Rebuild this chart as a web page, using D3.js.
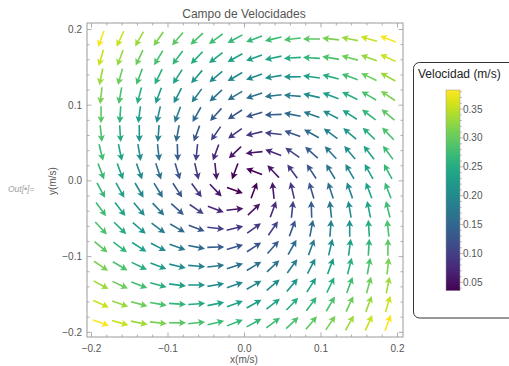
<!DOCTYPE html>
<html>
<head>
<meta charset="utf-8">
<script src="https://cdn.jsdelivr.net/npm/d3@7"></script>
<style>
  html, body { margin: 0; padding: 0; background: #fff; }
  svg { display: block; font-family: "Liberation Sans", Arial, sans-serif; }
</style>
</head>
<body>
<svg id="chart" width="509" height="366"></svg>
<script>
// ---- data ----
const title = "Campo de Velocidades";
const xLabel = "x(m/s)";
const yLabel = "y(m/s)";
const legendTitle = "Velocidad (m/s)";
const xTicks = [-0.2, -0.1, 0.0, 0.1, 0.2];
const yTicks = [-0.2, -0.1, 0.0, 0.1, 0.2];
const colorTicks = [0.05, 0.10, 0.15, 0.20, 0.25, 0.30, 0.35];
const colorRange = [0.0355, 0.383];
// arrow grid positions (columns left→right, rows top→bottom)
const xs = [-0.1875,-0.1625,-0.1375,-0.1125,-0.0875,-0.0625,-0.0375,-0.0125,0.0125,0.0375,0.0625,0.0875,0.1125,0.1375,0.1625,0.1875];
const ys = [0.1875,0.1625,0.1375,0.1125,0.0875,0.0625,0.0375,0.0125,-0.0125,-0.0375,-0.0625,-0.0875,-0.1125,-0.1375,-0.1625,-0.1875];
// horizontal velocity component at each arrow (rows top→bottom)
const U = [
 [-0.131,-0.146,-0.161,-0.176,-0.191,-0.206,-0.221,-0.236,-0.251,-0.266,-0.281,-0.296,-0.311,-0.326,-0.341,-0.356],
 [-0.099,-0.114,-0.129,-0.144,-0.159,-0.174,-0.189,-0.204,-0.219,-0.234,-0.249,-0.264,-0.279,-0.294,-0.309,-0.324],
 [-0.066,-0.081,-0.096,-0.111,-0.126,-0.141,-0.156,-0.171,-0.186,-0.201,-0.216,-0.231,-0.246,-0.261,-0.276,-0.291],
 [-0.034,-0.049,-0.064,-0.079,-0.094,-0.109,-0.124,-0.139,-0.154,-0.169,-0.184,-0.199,-0.214,-0.229,-0.244,-0.259],
 [-0.001,-0.016,-0.031,-0.046,-0.061,-0.076,-0.091,-0.106,-0.121,-0.136,-0.151,-0.166,-0.181,-0.196,-0.211,-0.226],
 [0.031,0.016,0.001,-0.014,-0.029,-0.044,-0.059,-0.074,-0.089,-0.104,-0.119,-0.134,-0.149,-0.164,-0.179,-0.194],
 [0.064,0.049,0.034,0.019,0.004,-0.011,-0.026,-0.041,-0.056,-0.071,-0.086,-0.101,-0.116,-0.131,-0.146,-0.161],
 [0.096,0.081,0.066,0.051,0.036,0.021,0.006,-0.009,-0.024,-0.039,-0.054,-0.069,-0.084,-0.099,-0.114,-0.129],
 [0.129,0.114,0.099,0.084,0.069,0.054,0.039,0.024,0.009,-0.006,-0.021,-0.036,-0.051,-0.066,-0.081,-0.096],
 [0.161,0.146,0.131,0.116,0.101,0.086,0.071,0.056,0.041,0.026,0.011,-0.004,-0.019,-0.034,-0.049,-0.064],
 [0.194,0.179,0.164,0.149,0.134,0.119,0.104,0.089,0.074,0.059,0.044,0.029,0.014,-0.001,-0.016,-0.031],
 [0.226,0.211,0.196,0.181,0.166,0.151,0.136,0.121,0.106,0.091,0.076,0.061,0.046,0.031,0.016,0.001],
 [0.259,0.244,0.229,0.214,0.199,0.184,0.169,0.154,0.139,0.124,0.109,0.094,0.079,0.064,0.049,0.034],
 [0.291,0.276,0.261,0.246,0.231,0.216,0.201,0.186,0.171,0.156,0.141,0.126,0.111,0.096,0.081,0.066],
 [0.324,0.309,0.294,0.279,0.264,0.249,0.234,0.219,0.204,0.189,0.174,0.159,0.144,0.129,0.114,0.099],
 [0.356,0.341,0.326,0.311,0.296,0.281,0.266,0.251,0.236,0.221,0.206,0.191,0.176,0.161,0.146,0.131]
];
// vertical velocity component at each arrow (rows top→bottom)
const V = [
 [-0.356,-0.324,-0.291,-0.259,-0.226,-0.194,-0.161,-0.129,-0.096,-0.064,-0.031,0.001,0.034,0.066,0.099,0.131],
 [-0.341,-0.309,-0.276,-0.244,-0.211,-0.179,-0.146,-0.114,-0.081,-0.049,-0.016,0.016,0.049,0.081,0.114,0.146],
 [-0.326,-0.294,-0.261,-0.229,-0.196,-0.164,-0.131,-0.099,-0.066,-0.034,-0.001,0.031,0.064,0.096,0.129,0.161],
 [-0.311,-0.279,-0.246,-0.214,-0.181,-0.149,-0.116,-0.084,-0.051,-0.019,0.014,0.046,0.079,0.111,0.144,0.176],
 [-0.296,-0.264,-0.231,-0.199,-0.166,-0.134,-0.101,-0.069,-0.036,-0.004,0.029,0.061,0.094,0.126,0.159,0.191],
 [-0.281,-0.249,-0.216,-0.184,-0.151,-0.119,-0.086,-0.054,-0.021,0.011,0.044,0.076,0.109,0.141,0.174,0.206],
 [-0.266,-0.234,-0.201,-0.169,-0.136,-0.104,-0.071,-0.039,-0.006,0.026,0.059,0.091,0.124,0.156,0.189,0.221],
 [-0.251,-0.219,-0.186,-0.154,-0.121,-0.089,-0.056,-0.024,0.009,0.041,0.074,0.106,0.139,0.171,0.204,0.236],
 [-0.236,-0.204,-0.171,-0.139,-0.106,-0.074,-0.041,-0.009,0.024,0.056,0.089,0.121,0.154,0.186,0.219,0.251],
 [-0.221,-0.189,-0.156,-0.124,-0.091,-0.059,-0.026,0.006,0.039,0.071,0.104,0.136,0.169,0.201,0.234,0.266],
 [-0.206,-0.174,-0.141,-0.109,-0.076,-0.044,-0.011,0.021,0.054,0.086,0.119,0.151,0.184,0.216,0.249,0.281],
 [-0.191,-0.159,-0.126,-0.094,-0.061,-0.029,0.004,0.036,0.069,0.101,0.134,0.166,0.199,0.231,0.264,0.296],
 [-0.176,-0.144,-0.111,-0.079,-0.046,-0.014,0.019,0.051,0.084,0.116,0.149,0.181,0.214,0.246,0.279,0.311],
 [-0.161,-0.129,-0.096,-0.064,-0.031,0.001,0.034,0.066,0.099,0.131,0.164,0.196,0.229,0.261,0.294,0.326],
 [-0.146,-0.114,-0.081,-0.049,-0.016,0.016,0.049,0.081,0.114,0.146,0.179,0.211,0.244,0.276,0.309,0.341],
 [-0.131,-0.099,-0.066,-0.034,-0.001,0.031,0.064,0.096,0.129,0.161,0.194,0.226,0.259,0.291,0.324,0.356]
];

// ---- drawing ----
const svg = d3.select("#chart");
const frame = {left: 87, right: 403, top: 23, bottom: 337};
const x = d3.scaleLinear().domain([-0.2, 0.2]).range([91.5, 397.5]);
const y = d3.scaleLinear().domain([-0.2, 0.2]).range([332.3, 29.5]);
const color = d3.scaleSequential(d3.interpolateViridis).domain(colorRange).clamp(true);
const txtCol = "#555";
const frameCol = "#9a9a9a";

// title
svg.append("text").attr("x", 244).attr("y", 18).attr("text-anchor", "middle")
  .attr("font-size", 12).attr("fill", "#555").text(title);

// Out label
svg.append("text").attr("x", 8).attr("y", 192).attr("font-size", 8.5)
  .attr("font-style", "italic").attr("fill", "#a0a0a0").text("Out[\u2022]=");

// arrows
const cells = [];
ys.forEach((yv, j) => xs.forEach((xv, i) => cells.push({xv, yv, u: U[j][i], v: V[j][i]})));
const L = 17, headLen = 7, headW = 3.6, shaftW = 1.6;
const arrowPath = (() => {
  const t = L / 2, b = -L / 2, hb = t - headLen, notch = t - headLen * 0.82;
  return `M${b},${-shaftW/2} L${notch},${-shaftW/2} L${hb},${-headW} L${t},0 L${hb},${headW} L${notch},${shaftW/2} L${b},${shaftW/2} Z`;
})();
svg.append("g").selectAll("path").data(cells).join("path")
  .attr("d", arrowPath)
  .attr("fill", d => color(Math.hypot(d.u, d.v)))
  .attr("transform", d => `translate(${x(d.xv)},${y(d.yv)}) rotate(${Math.atan2(-d.v, d.u) * 180 / Math.PI})`);

// frame
svg.append("rect").attr("x", frame.left).attr("y", frame.top)
  .attr("width", frame.right - frame.left).attr("height", frame.bottom - frame.top)
  .attr("fill", "none").attr("stroke", frameCol).attr("stroke-width", 1);

// ticks
const minor = d3.range(-0.2, 0.2001, 0.02);
const tg = svg.append("g").attr("stroke", frameCol).attr("stroke-width", 0.8);
minor.forEach(t => {
  const isMajor = Math.abs(Math.round(t * 10) - t * 10) < 1e-6;
  const len = isMajor ? 4.5 : 2.5;
  const px = x(t), py = y(t);
  tg.append("line").attr("x1", px).attr("x2", px).attr("y1", frame.bottom).attr("y2", frame.bottom - len);
  tg.append("line").attr("x1", px).attr("x2", px).attr("y1", frame.top).attr("y2", frame.top + len);
  tg.append("line").attr("y1", py).attr("y2", py).attr("x1", frame.left).attr("x2", frame.left + len);
  tg.append("line").attr("y1", py).attr("y2", py).attr("x1", frame.right).attr("x2", frame.right - len);
});
const fmt = d3.format(".1f");
svg.append("g").selectAll("text").data(xTicks).join("text")
  .attr("x", d => x(d)).attr("y", 352).attr("text-anchor", "middle")
  .attr("font-size", 10).attr("fill", txtCol).text(d => fmt(d));
svg.append("g").selectAll("text").data(yTicks).join("text")
  .attr("x", 82).attr("y", d => y(d) + 3.5).attr("text-anchor", "end")
  .attr("font-size", 10).attr("fill", txtCol).text(d => fmt(d));

// axis labels
svg.append("text").attr("x", 244).attr("y", 363).attr("text-anchor", "middle")
  .attr("font-size", 10).attr("fill", txtCol).text(xLabel);
svg.append("text").attr("transform", "translate(56,181) rotate(-90)").attr("text-anchor", "middle")
  .attr("font-size", 10).attr("fill", txtCol).text(yLabel);

// legend
svg.append("rect").attr("x", 413.5).attr("y", 62.5).attr("width", 110).attr("height", 255.5)
  .attr("rx", 6).attr("fill", "#fff").attr("stroke", "#333").attr("stroke-width", 1);
svg.append("text").attr("x", 418).attr("y", 78).attr("font-size", 12).attr("fill", "#222").text(legendTitle);

const cb = {x: 446, w: 14, top: 90, bottom: 290.7};
const cy = d3.scaleLinear().domain(colorRange).range([cb.bottom, cb.top]);
const defs = svg.append("defs");
const grad = defs.append("linearGradient").attr("id", "cbgrad")
  .attr("x1", 0).attr("y1", 1).attr("x2", 0).attr("y2", 0);
d3.range(0, 1.0001, 0.05).forEach(f => {
  grad.append("stop").attr("offset", f)
    .attr("stop-color", color(colorRange[0] + f * (colorRange[1] - colorRange[0])));
});
svg.append("rect").attr("x", cb.x).attr("y", cb.top).attr("width", cb.w).attr("height", cb.bottom - cb.top)
  .attr("fill", "url(#cbgrad)").attr("stroke", "#999").attr("stroke-width", 0.5);
const cbg = svg.append("g").attr("stroke", "#999").attr("stroke-width", 0.7);
d3.range(0.04, 0.3801, 0.01).forEach(t => {
  const isMajor = colorTicks.some(c => Math.abs(c - t) < 1e-6);
  cbg.append("line").attr("x1", cb.x + cb.w).attr("x2", cb.x + cb.w + (isMajor ? 3 : 1.8))
    .attr("y1", cy(t)).attr("y2", cy(t));
});
svg.append("g").selectAll("text").data(colorTicks).join("text")
  .attr("x", 463).attr("y", d => cy(d) + 3.5).attr("font-size", 10).attr("fill", txtCol)
  .text(d => d3.format(".2f")(d));
</script>
</body>
</html>
